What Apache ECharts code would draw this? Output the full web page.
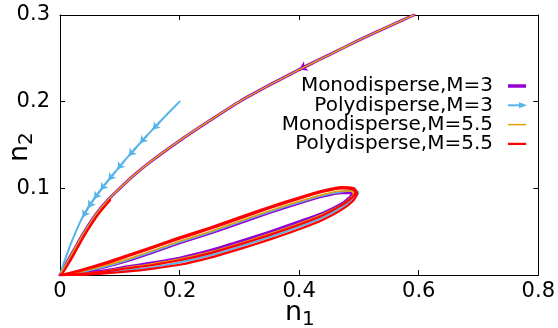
<!DOCTYPE html>
<html>
<head>
<meta charset="utf-8">
<script src="https://cdn.jsdelivr.net/npm/echarts@6/dist/echarts.min.js"></script>
<style>
html,body{margin:0;padding:0;background:#fff;}
#chart{width:558px;height:328px;}
</style>
</head>
<body>
<div id="chart"></div>
<script>
// ---------- data ----------
const seriesNames = ['Monodisperse,M=3', 'Polydisperse,M=3', 'Monodisperse,M=5.5', 'Polydisperse,M=5.5'];
const xTickLabels = ['0', '0.2', '0.4', '0.6', '0.8'];
const yTickLabels = ['', '0.1', '0.2', '0.3'];

// trajectory from (0.59,0.3) down to origin (mono M=3 and mono M=5.5 share it)
const monoApproach = [[0.592,0.3],[0.55,0.287],[0.5,0.271],[0.45,0.254],[0.4,0.237],[0.35,0.219],[0.3,0.2],[0.25,0.178],[0.2,0.155],[0.15,0.13],[0.12,0.113],[0.1,0.1],[0.08,0.0865],[0.06,0.07],[0.04,0.049],[0.025,0.031],[0.012,0.015],[0.004,0.005],[0,0]];
const blueApproach = [[0.2,0.2],[0.18,0.186],[0.16,0.1716],[0.14,0.1568],[0.12,0.1414],[0.1,0.1254],[0.08,0.1086],[0.065,0.0953],[0.055,0.086],[0.043,0.0735],[0.031,0.057],[0.021,0.041],[0.013,0.0265],[0.006,0.013],[0.002,0.0042],[0,0]];
const redApproach = [[0.084,0.0865],[0.064,0.07],[0.044,0.049],[0.029,0.031],[0.016,0.015],[0.007,0.005],[0.003,0.001],[0,0]];

const purpleLoop = [[0,0],[0.02,0.001],[0.05,0.0028],[0.08,0.0055],[0.11,0.0092],[0.15,0.0135],[0.2,0.0195],[0.25,0.028],[0.3,0.0385],[0.35,0.0495],[0.4,0.0615],[0.44,0.0715],[0.47,0.0815],[0.483,0.0885],[0.488,0.093],
  [0.485,0.095],[0.47,0.095],[0.44,0.091],[0.4,0.083],[0.35,0.072],[0.3,0.060],[0.25,0.048],[0.2,0.037],[0.15,0.025],[0.12,0.018],[0.09,0.012],[0.06,0.007],[0.03,0.0025],[0.01,0.0006],[0,0]];
const blueLoop = [[0,0],[0.02,0.0003],[0.05,0.0012],[0.08,0.003],[0.11,0.0055],[0.15,0.0085],[0.2,0.0145],[0.25,0.0225],[0.3,0.0325],[0.35,0.0435],[0.4,0.0555],[0.44,0.0665],[0.47,0.0775],[0.49,0.087],[0.499,0.095],
  [0.493,0.098],[0.47,0.096],[0.44,0.092],[0.4,0.084],[0.35,0.073],[0.3,0.061],[0.25,0.049],[0.2,0.038],[0.15,0.026],[0.12,0.019],[0.09,0.0125],[0.06,0.0072],[0.03,0.0026],[0.01,0.0007],[0,0]];
const orangeLoop = [[0,0],[0.02,0.0008],[0.05,0.0024],[0.08,0.005],[0.11,0.0085],[0.15,0.0125],[0.2,0.0185],[0.25,0.0265],[0.3,0.0365],[0.35,0.0475],[0.4,0.0595],[0.44,0.0705],[0.47,0.0805],[0.486,0.089],[0.491,0.094],
  [0.487,0.097],[0.47,0.097],[0.44,0.093],[0.4,0.085],[0.35,0.074],[0.3,0.062],[0.25,0.050],[0.2,0.039],[0.15,0.027],[0.12,0.020],[0.09,0.0135],[0.06,0.008],[0.03,0.003],[0.01,0.0008],[0,0]];
const redLoopA = [[0,0],[0.02,0.0006],[0.05,0.002],[0.08,0.0045],[0.11,0.0075],[0.15,0.011],[0.2,0.017],[0.25,0.025],[0.3,0.035],[0.35,0.046],[0.4,0.058],[0.44,0.069],[0.47,0.080],[0.488,0.089],[0.494,0.095],
  [0.489,0.099],[0.47,0.100],[0.44,0.096],[0.4,0.088],[0.35,0.077],[0.3,0.065],[0.25,0.053],[0.2,0.042],[0.15,0.030],[0.12,0.023],[0.09,0.016],[0.06,0.010],[0.03,0.004],[0.01,0.0012],[0,0]];
const redLoopB = [[0,0],[0.02,0.0001],[0.05,0.0007],[0.08,0.002],[0.11,0.0038],[0.15,0.0068],[0.2,0.0118],[0.25,0.0198],[0.3,0.0298],[0.35,0.0408],[0.4,0.0528],[0.44,0.0638],[0.47,0.0748],[0.49,0.0855],[0.497,0.094],
  [0.492,0.1],[0.47,0.1015],[0.44,0.0975],[0.4,0.0895],[0.35,0.0785],[0.3,0.0665],[0.25,0.0545],[0.2,0.0435],[0.15,0.0315],[0.12,0.0245],[0.09,0.0175],[0.06,0.0108],[0.03,0.0048],[0.01,0.0014],[0,0]];

// direction arrows (tail -> tip)
const blueArrowTails = [[0.167,0.1766],[0.146,0.1612],[0.127,0.1468],[0.108,0.1321],[0.093,0.1195],[0.08,0.1086],[0.069,0.0988],[0.059,0.0897],[0.05,0.0808]];
const blueArrowTips  = [[0.155,0.1679],[0.134,0.1522],[0.115,0.1374],[0.096,0.122],[0.081,0.1094],[0.068,0.098],[0.057,0.0879],[0.047,0.0777],[0.038,0.0666]];
const purpleArrowTails = [[0.425,0.2455]];
const purpleArrowTips  = [[0.4,0.237]];

// ---------- styles ----------
const colors = ['#9400d3', '#56b4e9', '#e69f00', '#ff0000'];
const widths = [3, 2, 1.5, 2.2];
const FONT = 'DejaVu Sans';

const chart = echarts.init(document.getElementById('chart'), null, {renderer: 'canvas'});

const axisCommon = {
  type: 'value',
  axisLine: {show: true, onZero: false, lineStyle: {color: '#000', width: 1}},
  axisTick: {show: true, inside: true, length: 5, lineStyle: {color: '#000', width: 1}},
  splitLine: {show: false}
};

function lineSeries(name, data, idx) {
  return {
    name: name, type: 'line', data: data, showSymbol: false, symbol: 'none',
    smooth: 0.2, animation: false,
    lineStyle: {color: colors[idx], width: widths[idx], cap: 'round', join: 'round'},
    itemStyle: {color: colors[idx]}
  };
}
function arrowSeries(tails, tips, idx, size) {
  return {
    type: 'lines', coordinateSystem: 'cartesian2d', animation: false,
    symbol: ['none', 'arrow'], symbolSize: size,
    lineStyle: {color: colors[idx], width: widths[idx], opacity: 1},
    data: tails.map((t, i) => ({coords: [t, tips[i]]}))
  };
}

const legendY0 = 86, legendDy = 19.3;
const graphics = [];
seriesNames.forEach((nm, i) => {
  const y = legendY0 + i * legendDy;
  graphics.push({type: 'text', x: 493, y: y, style: {text: nm, font: '20px "DejaVu Sans"', fill: '#000', textAlign: 'right', textVerticalAlign: 'middle'}});
  graphics.push({type: 'line', shape: {x1: 508, y1: y, x2: i === 1 ? 522 : 526, y2: y}, style: {stroke: colors[i], lineWidth: i === 0 ? 3.5 : widths[i]}});
  if (i === 1) {
    graphics.push({type: 'polygon', shape: {points: [[519, y - 3], [527, y], [519, y + 3]]}, style: {fill: colors[i]}});
  }
});
// axis titles with subscripts
graphics.push({type: 'text', x: 285, y: 313, style: {text: 'n', font: '27px "DejaVu Sans"', fill: '#000', textAlign: 'left', textVerticalAlign: 'middle'}});
graphics.push({type: 'text', x: 302, y: 320, style: {text: '1', font: '20px "DejaVu Sans"', fill: '#000', textAlign: 'left', textVerticalAlign: 'middle'}});
graphics.push({type: 'text', x: 20, y: 162, rotation: Math.PI / 2, style: {text: 'n', font: '27px "DejaVu Sans"', fill: '#000', textAlign: 'left', textVerticalAlign: 'middle'}});
graphics.push({type: 'text', x: 27, y: 145, rotation: Math.PI / 2, style: {text: '2', font: '20px "DejaVu Sans"', fill: '#000', textAlign: 'left', textVerticalAlign: 'middle'}});

const option = {
  animation: false,
  backgroundColor: '#fff',
  grid: {left: 60, right: 19, top: 15, bottom: 53, containLabel: false},
  xAxis: [
    Object.assign({}, axisCommon, {position: 'bottom', min: 0, max: 0.8, interval: 0.2,
      axisLabel: {show: true, margin: 6, color: '#000', fontSize: 21, fontFamily: FONT,
        formatter: v => xTickLabels[Math.round(v / 0.2)]}}),
    Object.assign({}, axisCommon, {position: 'top', min: 0, max: 0.8, interval: 0.2, axisLabel: {show: false}})
  ],
  yAxis: [
    Object.assign({}, axisCommon, {position: 'left', min: 0, max: 0.3, interval: 0.1,
      axisLabel: {show: true, margin: 10, color: '#000', fontSize: 21, fontFamily: FONT,
        formatter: v => yTickLabels[Math.round(v / 0.1)]}}),
    Object.assign({}, axisCommon, {position: 'right', min: 0, max: 0.3, interval: 0.1, axisLabel: {show: false}})
  ],
  series: [
    lineSeries(seriesNames[0], monoApproach.concat(purpleLoop), 0),
    lineSeries(seriesNames[1], blueApproach.concat(blueLoop), 1),
    arrowSeries(blueArrowTails, blueArrowTips, 1, 7),
    lineSeries(seriesNames[2], monoApproach.concat(orangeLoop), 2),
    lineSeries(seriesNames[3], redApproach.concat(redLoopA, redLoopB), 3),
    arrowSeries(purpleArrowTails, purpleArrowTips, 0, 8)
  ],
  graphic: graphics
};
chart.setOption(option);
</script>
</body>
</html>
